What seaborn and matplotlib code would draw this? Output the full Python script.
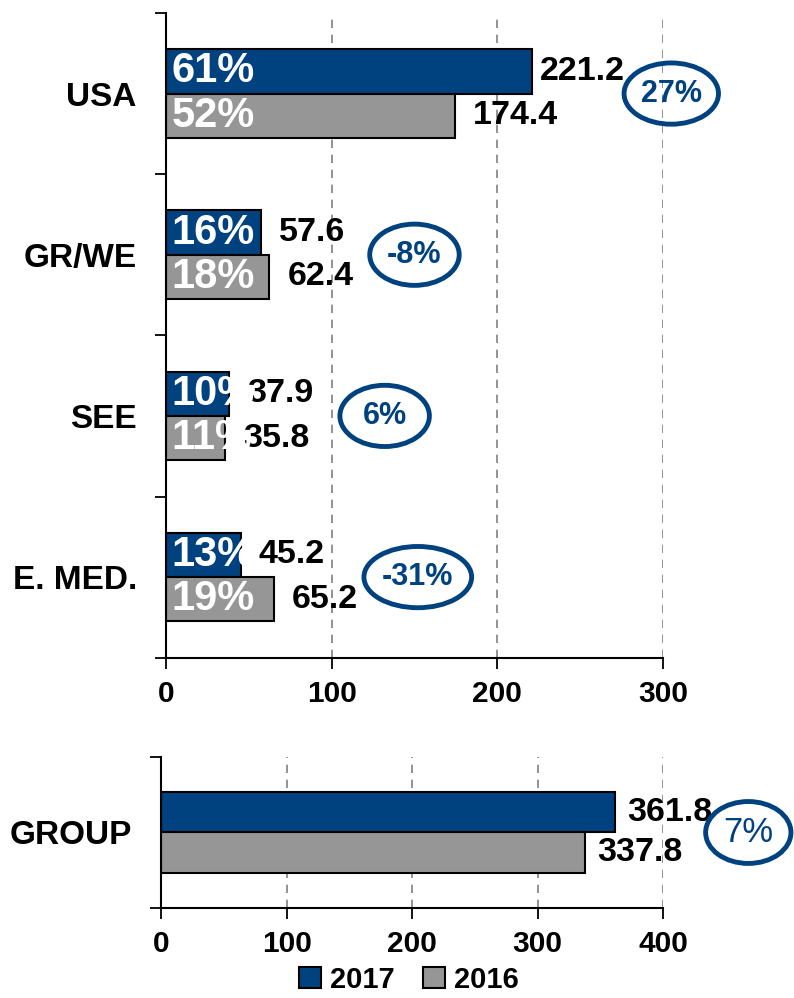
import pandas as pd
import matplotlib.pyplot as plt
import seaborn as sns
from matplotlib.patches import Ellipse, Patch

# ---------------- data ----------------
regions = ['USA', 'GR/WE', 'SEE', 'E. MED.']
years = ['2017', '2016']
sales_2017 = [221.2, 57.6, 37.9, 45.2]
sales_2016 = [174.4, 62.4, 35.8, 65.2]
share_2017 = ['61%', '16%', '10%', '13%']
share_2016 = ['52%', '18%', '11%', '19%']
change = ['27%', '-8%', '6%', '-31%']

group_label = ['GROUP']
group_2017 = [361.8]
group_2016 = [337.8]
group_change = ['7%']

# where the change bubbles sit (x centre, width in axis units)
bubble_x = [305, 150, 132, 152]
bubble_w = [57, 54, 54, 65]

BLUE = '#00427F'
GREY = '#969696'
palette = {'2017': BLUE, '2016': GREY}

sns.set_theme(style='white')
plt.rcParams['font.family'] = ['Liberation Sans', 'DejaVu Sans']
plt.rcParams['font.weight'] = 'bold'
plt.rcParams['text.color'] = 'black'
plt.rcParams['xtick.color'] = 'black'
plt.rcParams['ytick.color'] = 'black'
plt.rcParams['xtick.labelcolor'] = 'black'
plt.rcParams['ytick.labelcolor'] = 'black'

df = pd.DataFrame({'Region': regions * 2,
                   'Year': ['2017'] * len(regions) + ['2016'] * len(regions),
                   'Sales': sales_2017 + sales_2016})
df_group = pd.DataFrame({'Region': group_label * 2,
                         'Year': years,
                         'Sales': group_2017 + group_2016})

fig = plt.figure(figsize=(7.94, 9.98), dpi=100)
ax1 = fig.add_axes([0.209, 0.341, 0.626, 0.646])
ax2 = fig.add_axes([0.203, 0.0902, 0.632, 0.1513])


def style_axis(ax, n_cat, xmax, step):
    ax.set_xlim(0, xmax)
    ax.set_ylim(n_cat - 0.5, -0.5)
    ax.set_xticks(range(0, xmax + 1, step))
    ax.set_yticks([i - 0.5 for i in range(n_cat + 1)], minor=True)
    ax.set_xlabel('')
    ax.set_ylabel('')
    ax.set_axisbelow(True)
    ax.grid(axis='x', linestyle=(0, (5, 4)), color='#808080', linewidth=1.2)
    ax.grid(axis='y', visible=False)
    for s in ['top', 'right']:
        ax.spines[s].set_visible(False)
    for s in ['left', 'bottom']:
        ax.spines[s].set_color('black')
        ax.spines[s].set_linewidth(1.5)
    ax.tick_params(axis='y', which='major', length=0, labelsize=24, pad=21, labelcolor='black')
    ax.tick_params(axis='y', which='minor', length=8, width=1.3, color='black', direction='out', left=True)
    ax.tick_params(axis='x', which='major', length=8, width=1.3, color='black', direction='out',
                   bottom=True, labelsize=21.5, pad=8, labelcolor='black')


# ---------------- regions ----------------
sns.barplot(data=df, y='Region', x='Sales', hue='Year', hue_order=years, palette=palette,
            width=0.55, edgecolor='black', linewidth=1.5, saturation=1, ax=ax1, legend=False)
style_axis(ax1, len(regions), 300, 100)

for k, (container, shares) in enumerate(zip(ax1.containers, [share_2017, share_2016])):
    for i, (bar, share) in enumerate(zip(container, shares)):
        y = bar.get_y() + bar.get_height() / 2
        w = bar.get_width()
        off = 5 if (k == 0 and i == 0) else 13
        ax1.annotate(f'{w:.1f}', (w, y), xytext=(off, 0), textcoords='offset points',
                     ha='left', va='center', fontsize=24.5, fontweight='bold',
                     color='black', zorder=5)
        ax1.annotate(share, (0, y), xytext=(4, 0), textcoords='offset points',
                     ha='left', va='center', fontsize=30, fontweight='bold',
                     color='white', zorder=6)

for i, txt in enumerate(change):
    ax1.add_patch(Ellipse((bubble_x[i], i), width=bubble_w[i], height=0.38, fill=False,
                          edgecolor=BLUE, linewidth=3.5, clip_on=False, zorder=7))
    ax1.text(bubble_x[i], i, txt, ha='center', va='center', fontsize=22,
             fontweight='bold', color=BLUE, zorder=8, clip_on=False)

# ---------------- group ----------------
sns.barplot(data=df_group, y='Region', x='Sales', hue='Year', hue_order=years, palette=palette,
            width=0.54, edgecolor='black', linewidth=1.5, saturation=1, ax=ax2, legend=False)
style_axis(ax2, 1, 400, 100)

for container in ax2.containers:
    for bar in container:
        y = bar.get_y() + bar.get_height() / 2
        w = bar.get_width()
        ax2.annotate(f'{w:.1f}', (w, y), xytext=(9, 0), textcoords='offset points',
                     ha='left', va='center', fontsize=24.5, fontweight='bold',
                     color='black', zorder=5)

ax2.add_patch(Ellipse((468, 0), width=68, height=0.41, fill=False,
                      edgecolor=BLUE, linewidth=3.5, clip_on=False, zorder=7))
ax2.text(468, 0, group_change[0], ha='center', va='center', fontsize=25,
         fontweight='normal', color=BLUE, zorder=8, clip_on=False)

# ---------------- legend ----------------
handles = [Patch(facecolor=palette[y], edgecolor='black', linewidth=1.5) for y in years]
fig.legend(handles, years, loc='lower center', bbox_to_anchor=(0.515, -0.022), ncol=2,
           frameon=False, prop={'size': 21, 'weight': 'bold'}, handlelength=0.75,
           handleheight=0.75, handletextpad=0.3, columnspacing=1.0)

fig.savefig('out.png', dpi=100)
